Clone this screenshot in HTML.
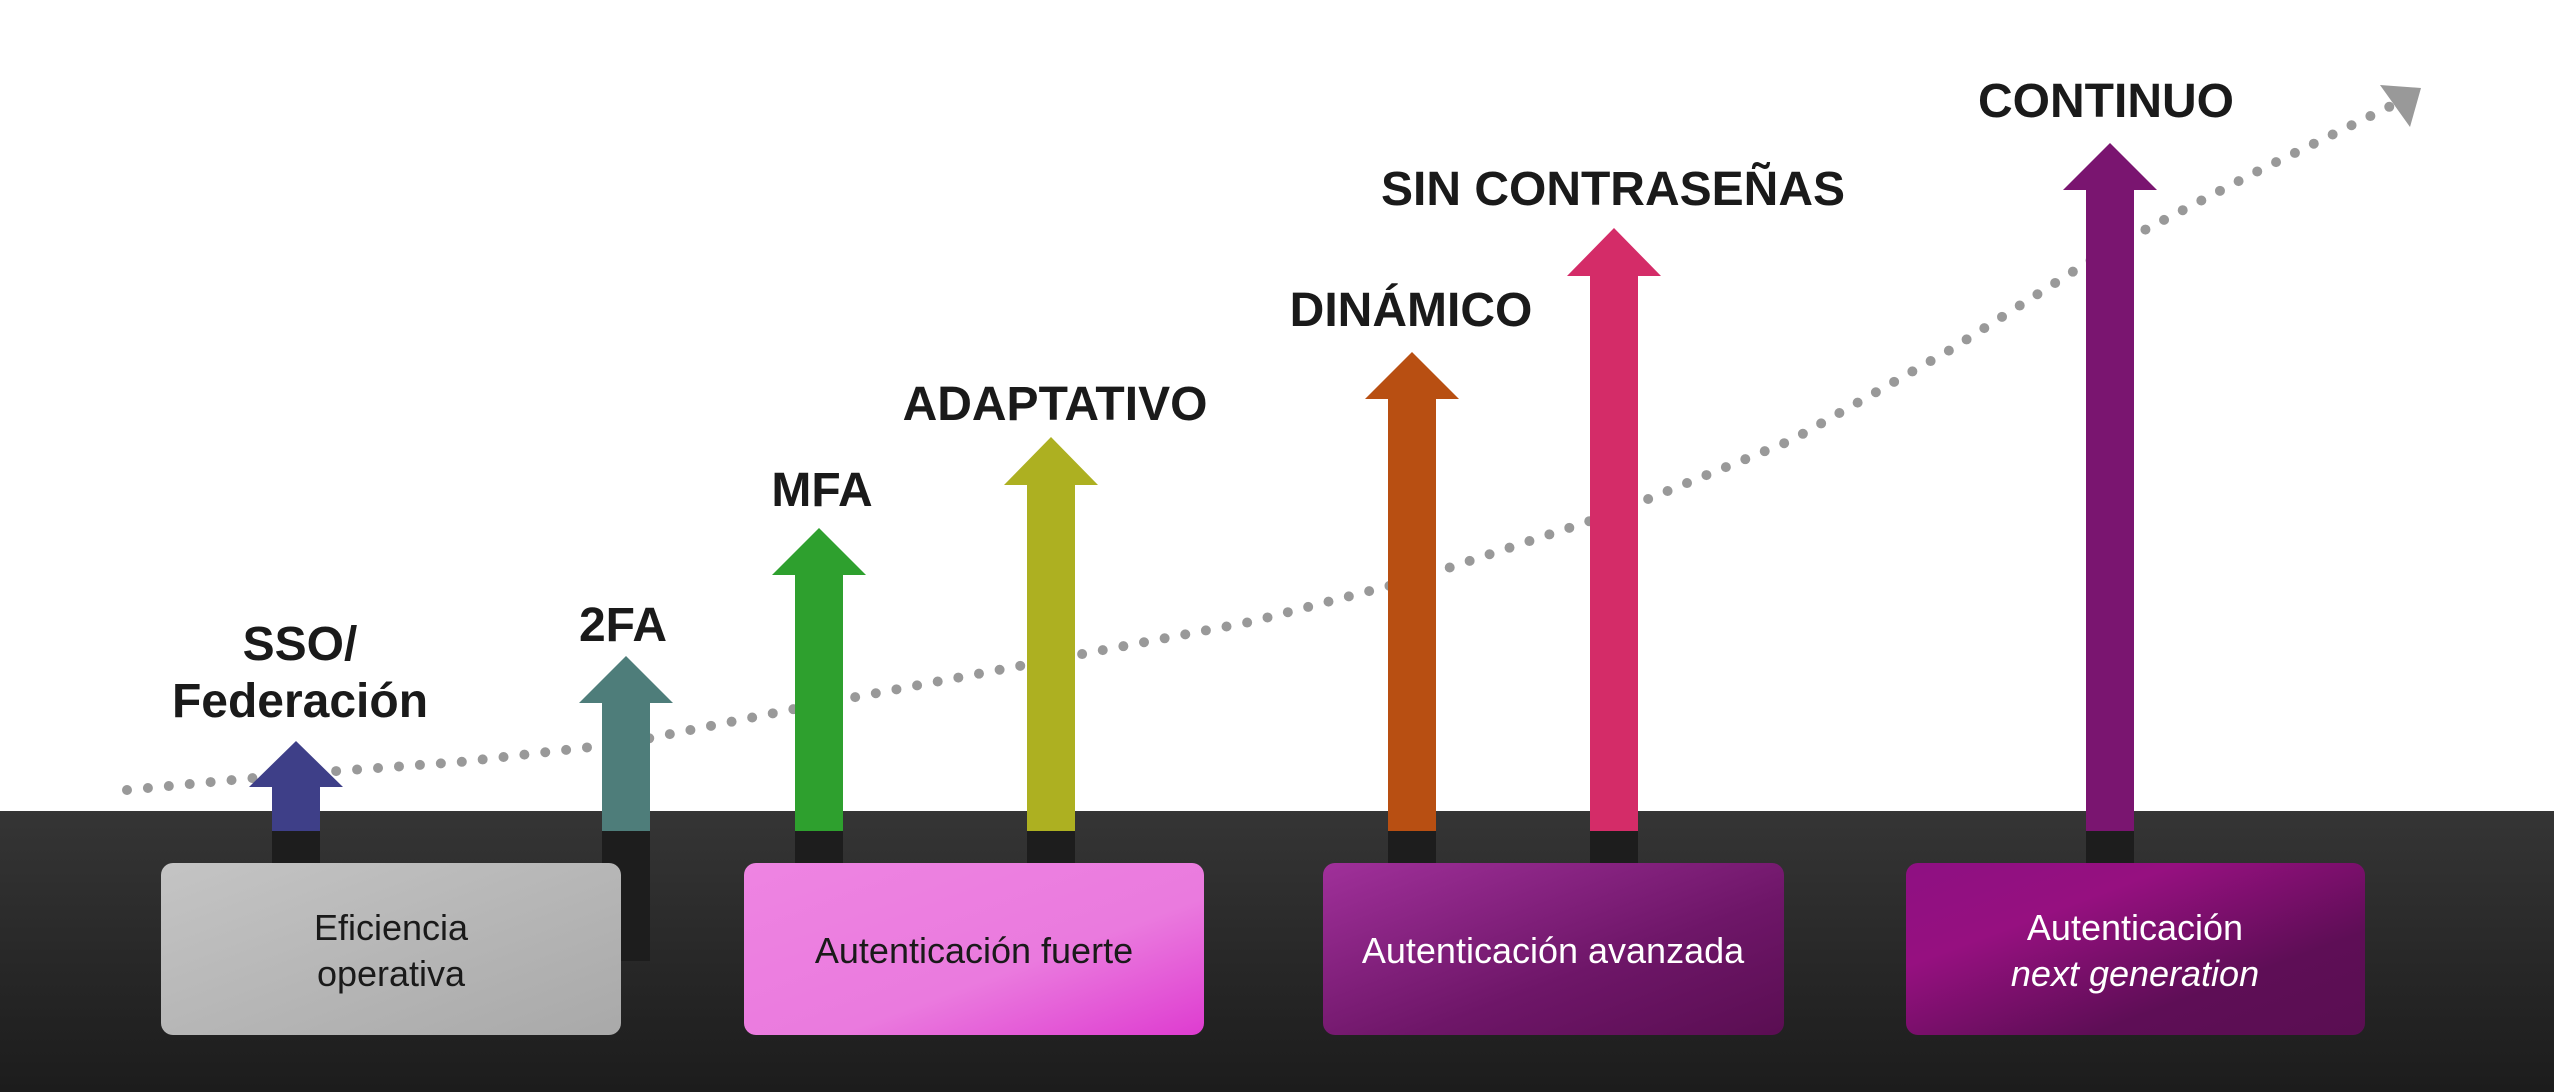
<!DOCTYPE html>
<html><head><meta charset="utf-8"><style>
html,body{margin:0;padding:0;background:#fff}
svg{display:block}
</style></head><body>
<svg width="2554" height="1092" viewBox="0 0 2554 1092" xmlns="http://www.w3.org/2000/svg" font-family="Liberation Sans, Arial, sans-serif">
<defs>
<linearGradient id="bg" x1="0" y1="0" x2="0" y2="1"><stop offset="0" stop-color="#353535"/><stop offset="1" stop-color="#1c1c1c"/></linearGradient>
<linearGradient id="g1" x1="0" y1="0" x2="1" y2="1"><stop offset="0" stop-color="#c4c4c4"/><stop offset="1" stop-color="#a9a9a9"/></linearGradient>
<linearGradient id="g2" x1="0" y1="0" x2="1" y2="1"><stop offset="0" stop-color="#ee84e2"/><stop offset="0.6" stop-color="#ea7ade"/><stop offset="1" stop-color="#de3cd0"/></linearGradient>
<linearGradient id="g3" x1="0" y1="0" x2="1" y2="1"><stop offset="0" stop-color="#a0309a"/><stop offset="0.6" stop-color="#6e1668"/><stop offset="1" stop-color="#5a0e52"/></linearGradient>
<linearGradient id="g4" x1="0" y1="0" x2="1" y2="1"><stop offset="0" stop-color="#8e1082"/><stop offset="0.3" stop-color="#961080"/><stop offset="0.7" stop-color="#5e0e56"/><stop offset="1" stop-color="#5a0e52"/></linearGradient>
</defs>
<rect x="0" y="811" width="2554" height="281" fill="url(#bg)"/>

<path d="M127,790 L296,774 L460,762 L626,743 L819,704 L1051,660 L1250,622 L1412,580 L1614,513 L1792,440 L1950,350 L2110,248 L2260,170 L2395,104" fill="none" stroke="#999" stroke-width="10" stroke-linecap="round" stroke-dasharray="0 21" stroke-linejoin="round"/>
<polygon points="2380,85 2421,88 2410,127" fill="#999"/>

<g>
<rect x="272" y="787" width="48" height="44" fill="#3e3f88"/><polygon points="296,741 343,787 249,787" fill="#3e3f88"/><rect x="272" y="831" width="48" height="32" fill="#1d1d1d"/>
<rect x="602" y="703" width="48" height="128" fill="#4e7d7a"/><polygon points="626,656 673,703 579,703" fill="#4e7d7a"/><rect x="602" y="831" width="48" height="130" fill="#1d1d1d"/>
<rect x="795" y="575" width="48" height="256" fill="#2ea02e"/><polygon points="819,528 866,575 772,575" fill="#2ea02e"/><rect x="795" y="831" width="48" height="32" fill="#1d1d1d"/>
<rect x="1027" y="485" width="48" height="346" fill="#adb021"/><polygon points="1051,437 1098,485 1004,485" fill="#adb021"/><rect x="1027" y="831" width="48" height="32" fill="#1d1d1d"/>
<rect x="1388" y="399" width="48" height="432" fill="#b84f12"/><polygon points="1412,352 1459,399 1365,399" fill="#b84f12"/><rect x="1388" y="831" width="48" height="32" fill="#1d1d1d"/>
<rect x="1590" y="276" width="48" height="555" fill="#d42c68"/><polygon points="1614,228 1661,276 1567,276" fill="#d42c68"/><rect x="1590" y="831" width="48" height="32" fill="#1d1d1d"/>
<rect x="2086" y="190" width="48" height="641" fill="#7a1570"/><polygon points="2110,143 2157,190 2063,190" fill="#7a1570"/><rect x="2086" y="831" width="48" height="32" fill="#1d1d1d"/>
</g>

<g font-weight="bold" font-size="48" fill="#1a1a1a" text-anchor="middle">
<text x="300" y="660">SSO/</text>
<text x="300" y="717">Federación</text>
<text x="623" y="641">2FA</text>
<text x="822" y="506">MFA</text>
<text x="1055" y="420">ADAPTATIVO</text>
<text x="1411" y="326">DINÁMICO</text>
<text x="1613" y="205">SIN CONTRASEÑAS</text>
<text x="2106" y="117">CONTINUO</text>
</g>

<rect x="161" y="863" width="460" height="172" rx="12" fill="url(#g1)"/>
<rect x="744" y="863" width="460" height="172" rx="12" fill="url(#g2)"/>
<rect x="1323" y="863" width="461" height="172" rx="12" fill="url(#g3)"/>
<rect x="1906" y="863" width="459" height="172" rx="12" fill="url(#g4)"/>
<g font-size="36" text-anchor="middle">
<text x="391" y="940" fill="#1a1a1a">Eficiencia</text>
<text x="391" y="986" fill="#1a1a1a">operativa</text>
<text x="974" y="963" fill="#1a1a1a">Autenticación fuerte</text>
<text x="1553" y="963" fill="#fff">Autenticación avanzada</text>
<text x="2135" y="940" fill="#fff">Autenticación</text>
<text x="2135" y="986" fill="#fff" font-style="italic">next generation</text>
</g>
</svg>
</body></html>
